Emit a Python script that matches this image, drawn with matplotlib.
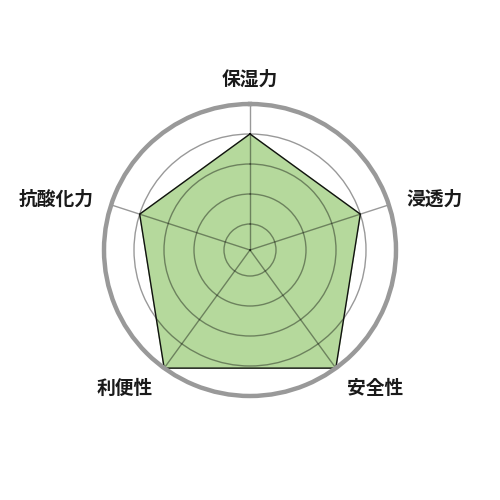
import numpy as np
import matplotlib
matplotlib.use("Agg")
import matplotlib.pyplot as plt

plt.rcParams['font.family'] = ['Noto Sans CJK JP', 'DejaVu Sans']

categories = ['保湿力', '浸透力', '安全性', '利便性', '抗酸化力']
values = [4, 4, 5, 5, 4]
grid_levels = [1, 2, 3, 4]

fig = plt.figure(figsize=(5, 5), dpi=100)
ax = fig.add_axes([0.208, 0.208, 0.584, 0.584], projection='polar')
ax.set_theta_zero_location('N')
ax.set_theta_direction(-1)

n = len(categories)
angles = np.linspace(0, 2 * np.pi, n, endpoint=False)
rmin, rmax = 0.133, 5

ax.set_ylim(rmin, rmax)
ax.set_yticks(grid_levels)
ax.set_yticklabels([])
ax.set_xticks(angles)
ax.set_xticklabels([])
ax.set_axisbelow(False)
ax.grid(True, color='black', alpha=0.4, linewidth=1.0)
ax.tick_params(length=0)

ax.spines['polar'].set_color('#999999')
ax.spines['polar'].set_linewidth(3.2)
ax.spines['polar'].set_zorder(4)

th = np.concatenate([angles, angles[:1]])
vv = values + values[:1]
ax.fill(th, vv, color='#b5d99c', zorder=1)
ax.plot(th, vv, color='#111111', linewidth=1.0, zorder=3)

label_r = 5.63
for a, lab in zip(angles, categories):
    s = np.sin(a)
    c = np.cos(a)
    if abs(s) < 0.1:
        ha = 'center'
    elif s > 0:
        ha = 'left'
    else:
        ha = 'right'
    dy = 0
    if c > 0.9:
        va = 'bottom'
        dy = -2.5
    elif c < -0.5:
        va = 'center'
        dy = -3.5
    else:
        va = 'center'
    ax.annotate(lab, xy=(a, label_r), xytext=(0, dy), textcoords='offset points',
                ha=ha, va=va, fontsize=13.5, color='#1a1a1a', fontweight='bold',
                annotation_clip=False)

fig.savefig('out.png', dpi=100)
